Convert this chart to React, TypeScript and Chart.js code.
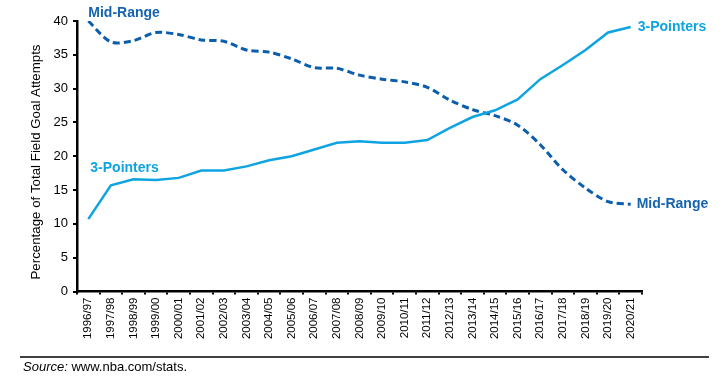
import React, { useEffect, useRef } from "react";
import { Chart, registerables } from "chart.js";

Chart.register(...registerables);

const seasons = [
  "1996/97", "1997/98", "1998/99", "1999/00", "2000/01", "2001/02", "2002/03",
  "2003/04", "2004/05", "2005/06", "2006/07", "2007/08", "2008/09", "2009/10",
  "2010/11", "2011/12", "2012/13", "2013/14", "2014/15", "2015/16", "2016/17",
  "2017/18", "2018/19", "2019/20", "2020/21",
];

const threePointers = [
  10.7, 15.7, 16.6, 16.5, 16.8, 17.9, 17.9, 18.5, 19.4, 20.0, 21.0, 22.0, 22.2,
  22.0, 22.0, 22.4, 24.2, 25.8, 26.8, 28.4, 31.4, 33.5, 35.7, 38.3, 39.1,
];

const midRange = [
  40.0, 36.9, 37.1, 38.3, 38.0, 37.2, 37.0, 35.7, 35.4, 34.4, 33.1, 33.0, 32.0,
  31.4, 31.0, 30.2, 28.3, 26.9, 26.0, 24.6, 21.7, 18.0, 15.3, 13.3, 12.9,
];

const yTicks = [0, 5, 10, 15, 20, 25, 30, 35, 40];

const COLOR_3P = "#0FA4E1";
const COLOR_MID = "#0B5EAB";

const annotatePlugin = {
  id: "annotate",
  afterDraw(chart: any) {
    const ctx = chart.ctx;
    const x = chart.scales.x;
    const y = chart.scales.y;
    const last = seasons.length - 1;
    ctx.save();
    ctx.font = "bold 14px 'Liberation Sans', Arial, sans-serif";
    ctx.textBaseline = "middle";
    ctx.textAlign = "left";
    ctx.fillStyle = "#1664B0";
    ctx.fillText("Mid-Range", x.getPixelForValue(0), y.getPixelForValue(midRange[0]) - 8);
    ctx.fillText("Mid-Range", x.getPixelForValue(last) + 6, y.getPixelForValue(midRange[last]));
    ctx.fillStyle = COLOR_3P;
    ctx.fillText("3-Pointers", x.getPixelForValue(0) + 2, y.getPixelForValue(18.3));
    ctx.fillText("3-Pointers", x.getPixelForValue(last) + 7, y.getPixelForValue(threePointers[last]));

    ctx.fillStyle = "#000";
    ctx.font = "13.3px 'Liberation Sans', Arial, sans-serif";
    ctx.save();
    ctx.translate(36.5, 162);
    ctx.rotate(-Math.PI / 2);
    ctx.textAlign = "center";
    ctx.fillText("Percentage of Total Field Goal Attempts", 0, 0);
    ctx.restore();

    ctx.strokeStyle = "#000";
    ctx.lineWidth = 1.5;
    ctx.beginPath();
    ctx.moveTo(20, 357);
    ctx.lineTo(709, 357);
    ctx.stroke();
    ctx.textAlign = "left";
    ctx.font = "italic 13px 'Liberation Sans', Arial, sans-serif";
    ctx.fillText("Source:", 23, 367);
    const w = ctx.measureText("Source:").width;
    ctx.font = "13px 'Liberation Sans', Arial, sans-serif";
    ctx.fillText(" www.nba.com/stats.", 23 + w, 367);
    ctx.restore();
  },
};

export default function App() {
  const ref = useRef<HTMLCanvasElement | null>(null);
  useEffect(() => {
    document.body.style.margin = "0";
    if (!ref.current) return;
    const chart = new Chart(ref.current, {
      type: "line",
      data: {
        labels: seasons,
        datasets: [
          {
            label: "3-Pointers",
            data: threePointers,
            borderColor: COLOR_3P,
            borderWidth: 2.5,
            pointRadius: 0,
            tension: 0,
            fill: false,
          },
          {
            label: "Mid-Range",
            data: midRange,
            borderColor: COLOR_MID,
            borderWidth: 3,
            borderDash: [7, 4],
            pointRadius: 0,
            tension: 0.3,
            fill: false,
          },
        ],
      },
      options: {
        animation: false,
        responsive: false,
        layout: { padding: { left: 0, top: 21, right: 85, bottom: 0 } },
        plugins: { legend: { display: false }, tooltip: { enabled: false } },
        scales: {
          x: {
            type: "category",
            offset: true,
            grid: {
              offset: true,
              drawOnChartArea: false,
              drawTicks: true,
              tickLength: 3,
              color: "#000",
              lineWidth: 2,
            },
            border: { display: true, color: "#000", width: 2.5 },
            ticks: {
              color: "#000",
              font: { family: "'Liberation Sans', Arial, sans-serif", size: 11.5 },
              minRotation: 90,
              maxRotation: 90,
              autoSkip: false,
              padding: 3,
            },
            afterFit(scale: any) {
              scale.height = 87.5;
            },
          },
          y: {
            min: 0,
            max: 40,
            afterBuildTicks(scale: any) {
              scale.ticks = yTicks.map((v) => ({ value: v }));
            },
            grid: {
              drawOnChartArea: false,
              drawTicks: true,
              tickLength: 4,
              color: "#000",
              lineWidth: 2,
            },
            border: { display: true, color: "#000", width: 2.5 },
            ticks: {
              color: "#000",
              font: { family: "'Liberation Sans', Arial, sans-serif", size: 13 },
              padding: 5,
            },
            afterFit(scale: any) {
              scale.width = 77;
            },
          },
        },
      },
      plugins: [annotatePlugin],
    });
    return () => chart.destroy();
  }, []);
  return <canvas ref={ref} width={727} height={379} style={{ display: "block" }} />;
}
